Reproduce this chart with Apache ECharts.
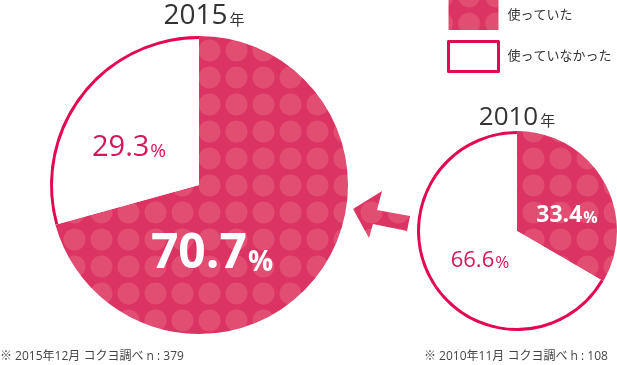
<!DOCTYPE html>
<html><head><meta charset="utf-8">
<script src="https://cdn.jsdelivr.net/npm/echarts@6/dist/echarts.min.js"></script>
<style>html,body{margin:0;padding:0;background:#fff}#c{width:617px;height:365px}</style>
</head><body><div id="c"></div>
<script>
const categories = ['使っていた', '使っていなかった'];
const values2015 = [70.7, 29.3];
const values2010 = [33.4, 66.6];
const years = ['2015', '2010'];
const notes = ['※ 2015年12月 コクヨ調べ n : 379', '※ 2010年11月 コクヨ調べ h : 108'];

const PINK = '#e3084f';
const TEXT_PINK = '#d4175a';
const FONT = "'Open Sans','Noto Sans CJK JP',sans-serif";

function makeTile() {
  const c = document.createElement('canvas');
  c.width = 27; c.height = 27;
  const g = c.getContext('2d');
  g.fillStyle = '#dc3462'; g.fillRect(0, 0, 27, 27);
  g.fillStyle = '#e24d72';
  g.beginPath(); g.arc(13.5, 13.5, 11, 0, Math.PI * 2); g.fill();
  return c;
}
const tile = makeTile();
const pattern = { image: tile, repeat: 'repeat', x: 7, y: 10 };

function pieData(vals, labelStyles) {
  return vals.map((v, i) => ({
    name: categories[i], value: v,
    itemStyle: { color: i === 0 ? pattern : '#ffffff', borderWidth: 0 },
    label: labelStyles[i]
  }));
}
function ringData(vals) {
  return vals.map((v, i) => ({
    name: categories[i], value: v,
    itemStyle: { color: i === 0 ? 'rgba(0,0,0,0)' : PINK, borderWidth: 0 }
  }));
}
function lbl(nSize, pSize, weight, color) {
  return {
    show: true, position: 'inside',
    formatter: p => '{n|' + p.value + '}{p|%}',
    rich: {
      n: { fontSize: nSize, fontWeight: weight, color: color, fontFamily: FONT, verticalAlign: 'bottom', lineHeight: nSize },
      p: { fontSize: pSize, fontWeight: weight, color: color, fontFamily: FONT, verticalAlign: 'bottom', lineHeight: nSize, padding: [0, 0, Math.round(nSize * 0.02), 1] }
    }
  };
}

const chart = echarts.init(document.getElementById('c'), null, { renderer: 'canvas' });
const common = { type: 'pie', startAngle: 90, clockwise: true, silent: true, animation: false,
  emphasis: { disabled: true }, labelLine: { show: false }, avoidLabelOverlap: false };

chart.setOption({
  animation: false,
  legend: {
    orient: 'vertical', left: 447, top: 0, padding: 0, itemWidth: 50, itemHeight: 30, itemGap: 10,
    selectedMode: false, icon: 'rect',
    textStyle: { fontSize: 13, color: '#333', fontFamily: FONT, padding: [0, 0, 0, 4] },
    data: [
      { name: categories[0], itemStyle: { color: pattern, borderWidth: 0 } },
      { name: categories[1], itemStyle: { color: '#fff', borderColor: PINK, borderWidth: 3 } }
    ]
  },
  series: [
    Object.assign({}, common, {
      center: [199, 185], radius: 149,
      data: pieData(values2015, [lbl(48, 28, 'bold', '#fff'), lbl(29, 19, 'normal', TEXT_PINK)]),
      labelLayout: p => p.dataIndex === 0
        ? { x: 212, y: 254, align: 'center', verticalAlign: 'middle' }
        : { x: 129, y: 148, align: 'center', verticalAlign: 'middle' }
    }),
    Object.assign({}, common, {
      center: [199, 185], radius: [146, 149], label: { show: false },
      data: ringData(values2015)
    }),
    Object.assign({}, common, {
      center: [517, 231], radius: 100,
      data: pieData(values2010, [lbl(23, 16, 'bold', '#fff'), lbl(22, 17, 'normal', TEXT_PINK)]),
      labelLayout: p => p.dataIndex === 0
        ? { x: 567, y: 215, align: 'center', verticalAlign: 'middle' }
        : { x: 480, y: 261, align: 'center', verticalAlign: 'middle' }
    }),
    Object.assign({}, common, {
      center: [517, 231], radius: [97, 100], label: { show: false },
      data: ringData(values2010)
    })
  ],
  graphic: [
    { type: 'text', x: 204, y: 15, silent: true, style: {
        text: '{y|' + years[0] + '}{k|年}', align: 'center', verticalAlign: 'middle',
        rich: { y: { fontSize: 28, fill: '#333', fontFamily: FONT, verticalAlign: 'bottom', lineHeight: 30 },
                k: { fontSize: 15, fill: '#333', fontFamily: FONT, verticalAlign: 'bottom', lineHeight: 30, padding: [0, 0, 2, 2] } } } },
    { type: 'text', x: 517, y: 117, silent: true, style: {
        text: '{y|' + years[1] + '}{k|年}', align: 'center', verticalAlign: 'middle',
        rich: { y: { fontSize: 26, fill: '#333', fontFamily: FONT, verticalAlign: 'bottom', lineHeight: 28 },
                k: { fontSize: 15, fill: '#333', fontFamily: FONT, verticalAlign: 'bottom', lineHeight: 28, padding: [0, 0, 2, 2] } } } },
    { type: 'text', x: 0, y: 357, silent: true, style: { text: notes[0], fontSize: 12, fill: '#444', fontFamily: FONT, align: 'left', verticalAlign: 'middle' } },
    { type: 'text', x: 424, y: 357, silent: true, style: { text: notes[1], fontSize: 12, fill: '#444', fontFamily: FONT, align: 'left', verticalAlign: 'middle' } },
    { type: 'polygon', silent: true, shape: { points: [[353, 209], [382, 191], [377, 210], [410, 216], [407, 231], [373, 224], [369, 238]] },
      style: { fill: pattern } }
  ]
});
</script>
</body></html>
